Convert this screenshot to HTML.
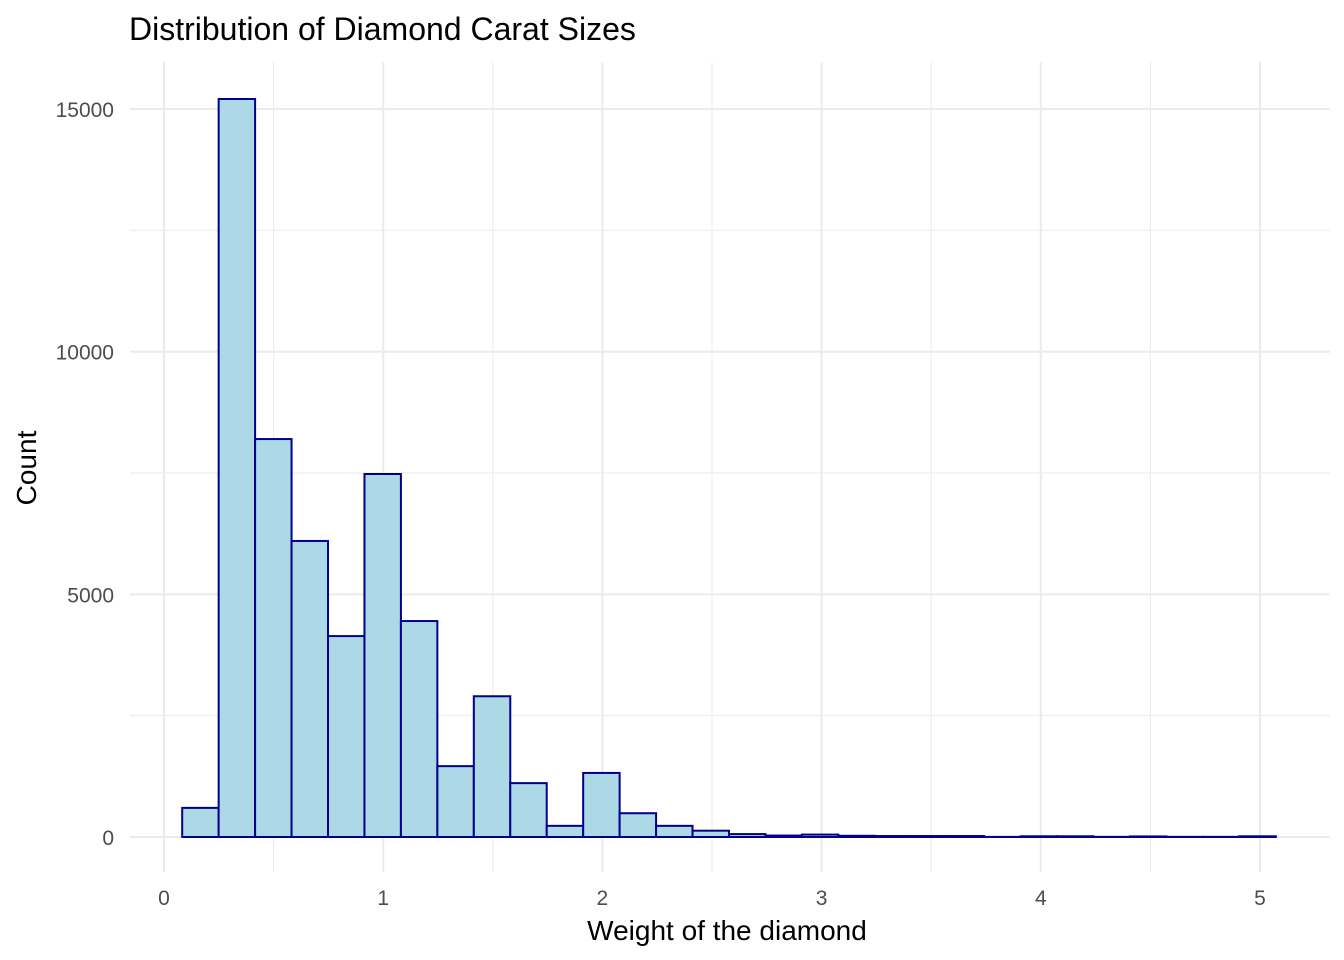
<!DOCTYPE html>
<html><head><meta charset="utf-8"><style>
body{margin:0;background:#fff;}
svg{display:block;font-family:"Liberation Sans",sans-serif;}
</style></head><body>
<svg width="1344" height="960">
<g id="grid"></g>
<g id="bars"></g>
<g id="axes"></g>
<text x="129" y="40" font-size="32" fill="#000">Distribution of Diamond Carat Sizes</text>
<text x="727" y="940" font-size="28" text-anchor="middle" fill="#000">Weight of the diamond</text>
<text transform="translate(36,468) rotate(-90)" font-size="28" text-anchor="middle" fill="#000">Count</text>
</svg>
<script>
const counts=[600,15207,8200,6100,4140,7480,4450,1460,2900,1110,230,1320,490,230,130,60,30,50,25,20,20,20,2,15,15,3,12,3,3,15];
const binStart=0.083;
const binWidth=0.1663;
const xTicks=[0,1,2,3,4,5];
const yTicks=[0,5000,10000,15000];
const X=v=>164+v*219.2;
const Y=v=>837-v*0.04853;
const NS="http://www.w3.org/2000/svg";
function mk(t,a,p){const e=document.createElementNS(NS,t);for(const k in a)e.setAttribute(k,a[k]);p.appendChild(e);return e;}
const grid=document.getElementById('grid'),bars=document.getElementById('bars'),axes=document.getElementById('axes');
for(let v=-2500;v<=16250;v+=2500){const y=Y(v);if(y<62||y>870)continue;const major=v%5000===0;
 const l=mk('line',{x1:130,x2:1330,y1:y,y2:y,stroke:'#ebebeb','stroke-width':major?2:1},grid);
 
 }
for(let v=0;v<=5.5;v+=0.5){const x=X(v);if(x>1330)continue;const major=v%1===0;
 const l=mk('line',{x1:x,x2:x,y1:62,y2:872,stroke:'#ebebeb','stroke-width':major?2:1},grid);
 
 }
counts.forEach((c,i)=>{const x0=X(binStart+i*binWidth),x1=X(binStart+(i+1)*binWidth);
 const r=mk('rect',{x:x0,y:Y(c),width:x1-x0,height:Y(0)-Y(c),fill:'#add8e6',stroke:'#00008b','stroke-width':2},bars);
 
 });
xTicks.forEach(v=>{const t=mk('text',{x:X(v),y:905,'font-size':21,'text-anchor':'middle',fill:'#4d4d4d'},axes);t.textContent=v;
 
 });
yTicks.forEach(v=>{const t=mk('text',{x:114,y:Y(v)+8,'font-size':21,'text-anchor':'end',fill:'#4d4d4d'},axes);t.textContent=v;
 
 });
</script>
</body></html>
